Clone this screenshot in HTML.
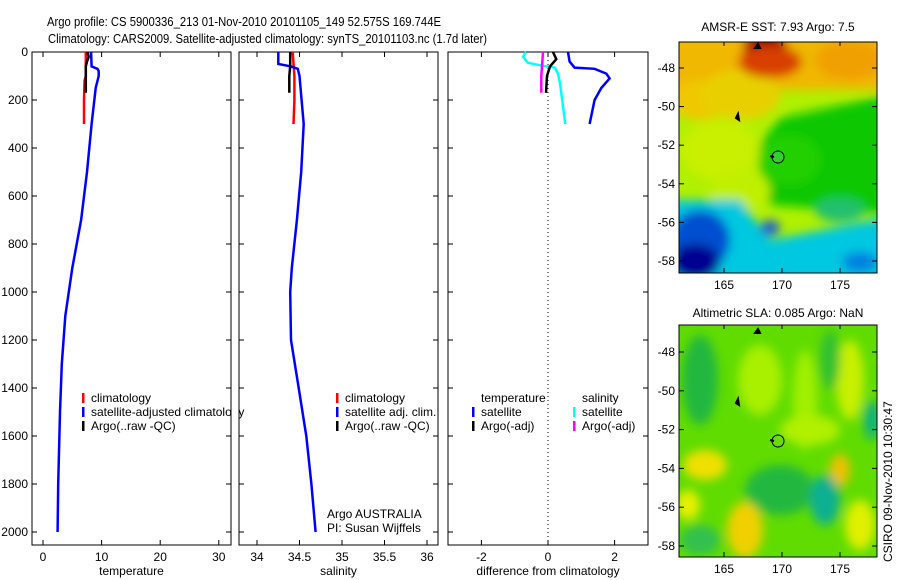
<!DOCTYPE html>
<html><head><meta charset="utf-8"><style>
body{margin:0;background:#fff;}
svg{display:block;font-family:"Liberation Sans",sans-serif;}
text{font-size:12px;fill:#000;}
</style></head><body>
<svg id="fig" width="900" height="580" viewBox="0 0 900 580">
<defs>
<filter id="bl" x="-20%" y="-20%" width="140%" height="140%"><feGaussianBlur stdDeviation="5"/></filter>
<clipPath id="m1c"><rect x="679" y="42" width="198" height="231"/></clipPath>
<clipPath id="m2c"><rect x="679" y="325" width="198" height="232"/></clipPath>
</defs>
<text x="47" y="26" textLength="394" lengthAdjust="spacingAndGlyphs" style="font-size:13px">Argo profile: CS 5900336_213 01-Nov-2010 20101105_149 52.575S 169.744E</text>
<text x="48" y="43" textLength="439" lengthAdjust="spacingAndGlyphs" style="font-size:13px">Climatology: CARS2009. Satellite-adjusted climatology: synTS_20101103.nc (1.7d later)</text>

<g id="p1"></g>
<g id="p2"></g>
<g id="p3"></g>

<g>
<text x="778" y="31" text-anchor="middle">AMSR-E SST: 7.93 Argo: 7.5</text>
<g clip-path="url(#m1c)">
<rect x="679" y="42" width="198" height="231" fill="#b0f000"/>
<g filter="url(#bl)">
<rect x="660" y="30" width="240" height="60" fill="#f0b800"/>
<ellipse cx="700" cy="100" rx="30" ry="20" fill="#f0c800"/>
<ellipse cx="740" cy="95" rx="40" ry="25" fill="#e8d000"/>
<ellipse cx="765" cy="48" rx="22" ry="18" fill="#a00000"/>
<ellipse cx="770" cy="62" rx="32" ry="16" fill="#d84000"/>
<ellipse cx="850" cy="60" rx="35" ry="20" fill="#f0a000"/>
<polygon points="780,118 900,92 900,215 770,205 755,150" fill="#10c800"/>
<ellipse cx="790" cy="160" rx="30" ry="25" fill="#20d000"/>
<ellipse cx="720" cy="150" rx="40" ry="30" fill="#c8f000"/>
<ellipse cx="740" cy="190" rx="30" ry="20" fill="#c0f000"/>
<polygon points="660,200 740,200 770,240 900,215 900,290 660,290" fill="#00c8e0"/>
<ellipse cx="700" cy="240" rx="30" ry="30" fill="#0050d0"/>
<ellipse cx="695" cy="262" rx="25" ry="18" fill="#000090"/>
<ellipse cx="770" cy="228" rx="10" ry="8" fill="#2060d0"/>
<ellipse cx="840" cy="210" rx="25" ry="12" fill="#20c070"/>
<ellipse cx="860" cy="262" rx="18" ry="10" fill="#0080e0"/>
</g>
</g>
<rect x="679" y="42" width="198" height="231" fill="none" stroke="#000"/>
<circle cx="778" cy="157" r="6" fill="#30d030" stroke="#000"/>
<path d="M736 118 l2 -4 l1 6 z M755 48 l3 -4 l2 4 z" fill="#000" stroke="#000" stroke-width="2"/>
<path d="M774 157 l-4 -1" stroke="#000" stroke-width="2"/>
</g>

<g>
<text x="778" y="317" text-anchor="middle">Altimetric SLA: 0.085 Argo: NaN</text>
<g clip-path="url(#m2c)">
<rect x="679" y="325" width="198" height="232" fill="#60dc00"/>
<g filter="url(#bl)">
<ellipse cx="700" cy="380" rx="18" ry="45" fill="#20b840"/>
<ellipse cx="760" cy="380" rx="22" ry="35" fill="#a8f000"/>
<ellipse cx="805" cy="400" rx="12" ry="50" fill="#a0f000"/>
<ellipse cx="850" cy="380" rx="14" ry="40" fill="#c8f000"/>
<ellipse cx="830" cy="360" rx="10" ry="30" fill="#30c030"/>
<ellipse cx="810" cy="430" rx="30" ry="15" fill="#b0f000"/>
<ellipse cx="705" cy="465" rx="22" ry="15" fill="#f0e000"/>
<ellipse cx="840" cy="470" rx="10" ry="16" fill="#f0c000"/>
<ellipse cx="780" cy="490" rx="35" ry="25" fill="#20b840"/>
<ellipse cx="825" cy="500" rx="15" ry="25" fill="#10b090"/>
<ellipse cx="745" cy="530" rx="18" ry="28" fill="#f0d000"/>
<ellipse cx="700" cy="540" rx="20" ry="15" fill="#30c050"/>
<ellipse cx="688" cy="505" rx="12" ry="15" fill="#e8f000"/>
<ellipse cx="860" cy="525" rx="15" ry="25" fill="#e0f000"/>
<ellipse cx="872" cy="420" rx="8" ry="20" fill="#10b080"/>
</g>
</g>
<rect x="679" y="325" width="198" height="232" fill="none" stroke="#000"/>
<circle cx="778" cy="441" r="6" fill="none" stroke="#000"/>
<path d="M736 403 l2 -4 l1 6 z M755 333 l3 -4 l2 4 z" fill="#000" stroke="#000" stroke-width="2"/>
<path d="M774 441 l-4 -1" stroke="#000" stroke-width="2"/>
</g>
<g id="mapaxes"></g>
<text transform="translate(892,562) rotate(-90)">CSIRO 09-Nov-2010 10:30:47</text>
</svg>
<script>
const depthTicks=[0,200,400,600,800,1000,1200,1400,1600,1800,2000];
const tempTicks=[0,10,20,30];
const satTempDepth=[0,60,70,80,100,150,300,500,700,900,1100,1300,1500,1800,2000];
const satTemp=[8.2,8.3,9.3,9.5,9.5,9.0,8.3,7.5,6.5,5.0,3.8,3.2,2.9,2.6,2.5];
const climTempDepth=[0,100,120,200,300];
const climTemp=[7.3,7.3,7.1,7.0,7.0];
const argoTempDepth=[0,20,40,60,100,170];
const argoTemp=[7.6,7.8,7.5,7.3,7.3,7.3];
const salTicks=[34,34.5,35,35.5,36];
const satSalDepth=[0,50,60,70,100,300,500,700,900,1000,1200,1400,1600,1800,2000];
const satSal=[34.25,34.25,34.4,34.48,34.5,34.55,34.52,34.47,34.41,34.39,34.4,34.49,34.58,34.64,34.69];
const climSalDepth=[0,100,200,300];
const climSal=[34.42,34.44,34.44,34.43];
const argoSalDepth=[0,60,100,170];
const argoSal=[34.39,34.39,34.38,34.38];
const diffTicks=[-2,0,2];
const dTempSatDepth=[0,40,65,70,90,110,150,200,300];
const dTempSat=[0.6,0.65,0.8,1.4,1.75,1.85,1.6,1.4,1.25];
const dSalSatDepth=[0,20,45,55,65,90,130,300];
const dSalSat=[-0.66,-0.75,-0.6,-0.25,0.2,0.3,0.36,0.52];
const dTempArgoDepth=[0,30,60,100,170];
const dTempArgo=[0.15,0.25,0.06,-0.03,-0.06];
const dSalArgoDepth=[0,100,170];
const dSalArgo=[-0.15,-0.2,-0.2];
const latTicks=[-48,-50,-52,-54,-56,-58];
const lonTicks=[165,170,175];

const NS='http://www.w3.org/2000/svg';
const yD=d=>52+d*0.24;
function mk(tag,attrs,parent,txt){const e=document.createElementNS(NS,tag);for(const k in attrs)e.setAttribute(k,attrs[k]);if(txt!==undefined)e.textContent=txt;parent.appendChild(e);return e;}
function line(par,xs,ys,xf,col,nm){
  const pts=xs.map((v,i)=>xf(v).toFixed(1)+','+yD(ys[i]).toFixed(1)).join(' ');
  const e=mk('polyline',{points:pts,fill:'none',stroke:col,'stroke-width':2.5},par);
  
  
}
function panel(g,x0,x1,xf,ticks,label,showDepth,nm){
  const f=mk('rect',{x:x0,y:52,width:x1-x0,height:493,fill:'none',stroke:'#000'},g);
  
  
  depthTicks.forEach(d=>{
    mk('line',{x1:x0,x2:x0+5,y1:yD(d),y2:yD(d),stroke:'#000'},g);
    mk('line',{x1:x1-5,x2:x1,y1:yD(d),y2:yD(d),stroke:'#000'},g);
    if(showDepth){const t=mk('text',{x:x0-4,y:yD(d)+4,'text-anchor':'end'},g,String(d));
      
      }
  });
  ticks.forEach(v=>{
    const x=xf(v);
    mk('line',{x1:x,x2:x,y1:545,y2:540,stroke:'#000'},g);
    mk('line',{x1:x,x2:x,y1:52,y2:57,stroke:'#000'},g);
    const t=mk('text',{x:x,y:561,'text-anchor':'middle'},g,String(v));
    
    
  });
  const l=mk('text',{x:(x0+x1)/2,y:575,'text-anchor':'middle'},g,label);
  
  
}
function legend(g,x,y,items){
  items.forEach((it,i)=>{
    if(it[1]) mk('rect',{x:x,y:y+i*14-9,width:2.5,height:10,fill:it[1]},g);
    const t=mk('text',{x:x+9,y:y+i*14},g,it[0]);
    
    
  });
}
const p1=document.getElementById('p1'),p2=document.getElementById('p2'),p3=document.getElementById('p3');
const xT=v=>43+v*5.86, xS=v=>257+(v-34)*85, xDf=v=>548+v*33.3;
panel(p1,32,231,xT,tempTicks,'temperature',true,'temperature');
panel(p2,239,438,xS,salTicks,'salinity',false,'salinity');
panel(p3,448,648,xDf,diffTicks,'difference from climatology',false,'difference');
line(p1,climTemp,climTempDepth,xT,'#f00','climatology-temp-line');
line(p1,satTemp,satTempDepth,xT,'#00f','satellite-temp-line');
line(p1,argoTemp,argoTempDepth,xT,'#000','argo-temp-line');
line(p2,climSal,climSalDepth,xS,'#f00','climatology-sal-line');
line(p2,satSal,satSalDepth,xS,'#00f','satellite-sal-line');
line(p2,argoSal,argoSalDepth,xS,'#000','argo-sal-line');
mk('line',{x1:548,x2:548,y1:52,y2:545,stroke:'#000','stroke-dasharray':'1,3'},p3);
line(p3,dSalSat,dSalSatDepth,xDf,'#0ff','sal-sat-diff-line');
line(p3,dTempSat,dTempSatDepth,xDf,'#00f','temp-sat-diff-line');
line(p3,dSalArgo,dSalArgoDepth,xDf,'#f0f','sal-argo-diff-line');
line(p3,dTempArgo,dTempArgoDepth,xDf,'#000','temp-argo-diff-line');
legend(p1,82,402,[['climatology','#f00'],['satellite-adjusted climatology','#00f'],['Argo(..raw -QC)','#000']]);
legend(p2,336,402,[['climatology','#f00'],['satellite adj. clim.','#00f'],['Argo(..raw -QC)','#000']]);
legend(p3,472,402,[['temperature',null],['satellite','#00f'],['Argo(-adj)','#000']]);
legend(p3,573,402,[['salinity',null],['satellite','#0ff'],['Argo(-adj)','#f0f']]);
mk('rect',{x:232,y:380,width:6,height:60,fill:'#fff'},p1);
mk('line',{x1:231,x2:231,y1:380,y2:440,stroke:'#000'},p1);
mk('line',{x1:231,x2:226,y1:yD(1400),y2:yD(1400),stroke:'#000'},p1);mk('line',{x1:231,x2:226,y1:yD(1600),y2:yD(1600),stroke:'#000'},p1);
const a1=mk('text',{x:327,y:518},p2,'Argo AUSTRALIA');
const a2=mk('text',{x:327,y:532},p2,'PI: Susan Wijffels');
const ma=document.getElementById('mapaxes');
[[42,273,68,261],[325,557,352,546]].forEach(m=>{
  const yl=v=>m[2]+(v+48)/(-10)*(m[3]-m[2]);
  latTicks.forEach(v=>{const y=yl(v);
    mk('line',{x1:679,x2:684,y1:y,y2:y,stroke:'#000'},ma);mk('line',{x1:872,x2:877,y1:y,y2:y,stroke:'#000'},ma);
    const t=mk('text',{x:675,y:y+4,'text-anchor':'end'},ma,String(v));
    
    });
  lonTicks.forEach(v=>{const x=724+(v-165)*11.6;
    mk('line',{x1:x,x2:x,y1:m[1],y2:m[1]-5,stroke:'#000'},ma);mk('line',{x1:x,x2:x,y1:m[0],y2:m[0]+4,stroke:'#000'},ma);
    const t=mk('text',{x:x,y:m[1]+16,'text-anchor':'middle'},ma,String(v));
    
    });
});
</script>
</body></html>
